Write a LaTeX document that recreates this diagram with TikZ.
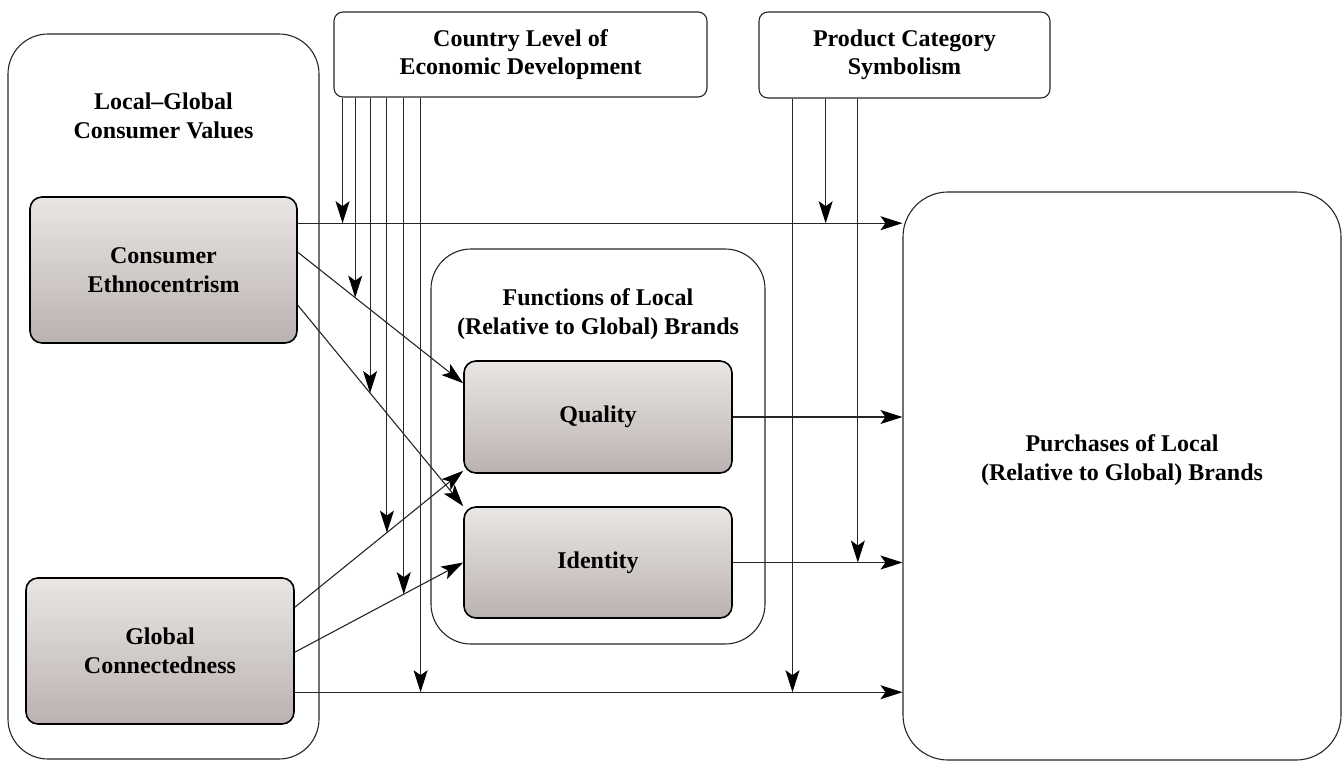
\documentclass[tikz,border=0pt]{standalone}
\usepackage{fontspec}
\setmainfont{Liberation Serif}
\usetikzlibrary{arrows.meta}
\definecolor{shadetop}{RGB}{234,230,228}
\definecolor{shadebot}{RGB}{186,178,176}

\begin{document}
\begin{tikzpicture}[x=1pt,y=-1pt,
  font=\bfseries\fontsize{24}{28.5}\selectfont,
  frame/.style={draw=black!85,line width=1.1pt,rounded corners=40pt,inner sep=0pt},
  topbox/.style={draw=black!85,line width=1.1pt,rounded corners=9pt,inner sep=0pt,align=center},
  shadebox/.style={draw=black,line width=1.6pt,rounded corners=12pt,inner sep=0pt,align=center,
    top color=shadetop,bottom color=shadebot},
  link/.style={draw=black!85,line width=1.1pt,-{Stealth[length=22pt,width=14pt,inset=5pt,black]}},
  heading/.style={align=center}]

\useasboundingbox (0,0) rectangle (1344,761);

% frames
\node[frame,minimum width=311pt,minimum height=725pt] (values) at (163.5,396.5) {};
\node[heading] (valuesT) at (163.5,116) {Local--Global\\Consumer Values};
\node[frame,minimum width=334pt,minimum height=395pt] (functions) at (598,446.5) {};
\node[heading] (functionsT) at (598,314) {Functions of Local\\(Relative to Global) Brands};
\node[frame,rounded corners=45pt,minimum width=438pt,minimum height=568pt] (purchase) at (1122,476) {};
\node[heading] (purchaseT) at (1122,460) {Purchases of Local\\(Relative to Global) Brands};

\node[topbox,minimum width=373pt,minimum height=85pt] (country) at (520.5,54.5) {Country Level of\\Economic Development};
\node[topbox,minimum width=291pt,minimum height=86pt] (symbol) at (904.5,55) {Product Category\\Symbolism};

\node[shadebox,minimum width=267pt,minimum height=146pt] (ethno) at (163.5,270) {Consumer\\Ethnocentrism};
\node[shadebox,minimum width=268pt,minimum height=146pt] (connect) at (160,651) {Global\\Connectedness};
\node[shadebox,minimum width=268pt,minimum height=112pt] (quality) at (598,417) {Quality};
\node[shadebox,minimum width=268pt,minimum height=111pt] (identity) at (598,562.5) {Identity};

\coordinate (ceA) at ([yshift=-27pt]ethno.north east);
\coordinate (ceB) at ([yshift=-56pt]ethno.north east);
\coordinate (ceC) at ([yshift=-109pt]ethno.north east);
\coordinate (gcA) at ([yshift=-30pt]connect.north east);
\coordinate (gcB) at ([yshift=-75pt]connect.north east);
\coordinate (gcC) at ([yshift=-115pt]connect.north east);

% direct effects
\draw[link] (ceA) -- coordinate[pos=0.074] (e1) coordinate[pos=0.873] (p2) (ceA -| purchase.west);
\draw[link] (quality.east) -- (quality.east -| purchase.west);
\draw[link] (identity.east) -- coordinate[pos=0.737] (p3) (identity.east -| purchase.west);
\draw[link] (gcC) -- coordinate[pos=0.207] (e6) coordinate[pos=0.819] (p1) (gcC -| purchase.west);

% effects on brand functions
\draw[link] (ceB) -- coordinate[pos=0.347] (e2) ([yshift=-23pt]quality.north west);
\draw[link] (ceC) -- coordinate[pos=0.437] (e3) (identity.north west);
\draw[link] (gcA) -- coordinate[pos=0.547] (e4) ([yshift=3pt]quality.south west);
\draw[link] (gcB) -- coordinate[pos=0.647] (e5) (identity.west);

% moderators
\foreach \i in {1,...,6}
{
\draw[link] (e\i |- country.south) -- (e\i);
}
\foreach \i in {1,2,3}
{
\draw[link] (p\i |- symbol.south) -- (p\i);
}
\end{tikzpicture}
\end{document}
